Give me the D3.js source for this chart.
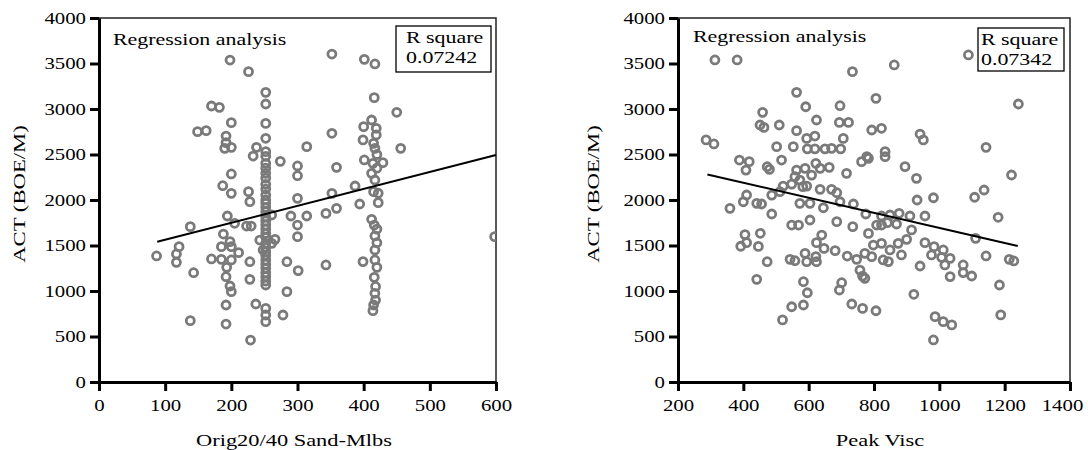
<!DOCTYPE html>
<html>
<head>
<meta charset="utf-8">
<script src="https://cdn.jsdelivr.net/npm/d3@7"></script>
<style>
  body { margin: 0; background: #fff; }
  text { font-family: "Liberation Serif", "Times New Roman", serif; font-size: 16px; fill: #000; }
</style>
</head>
<body>
<svg id="chart" width="1088" height="450"></svg>
<script>
// tick labels
var actTicks = [0, 500, 1000, 1500, 2000, 2500, 3000, 3500, 4000];
var sandTicks = [0, 100, 200, 300, 400, 500, 600];
var viscTicks = [200, 400, 600, 800, 1000, 1200, 1400];

// Orig20/40 Sand-Mlbs vs ACT
var sandPts = [
  [87,1385],[121,1487],[117,1407],[117,1315],[138,1707],[143,1201],[138,674],
  [149,2751],[162,2762],[170,3033],[182,3018],[170,1352],[187,2157],
  [192,2703],[192,2630],[200,2579],[190,2568],[198,3538],[200,2850],[200,2286],[200,2073],
  [194,1824],[205,1744],[188,1626],[198,1542],[185,1487],[200,1487],[211,1421],
  [185,1348],[200,1341],[193,1260],[192,1157],[198,1055],[200,993],[192,846],[192,637],
  [226,3410],[238,2579],[233,2483],[226,2092],[228,1982],[223,1714],[230,1714],
  [243,1560],[248,1450],[228,1322],[228,1128],[237,857],[229,461],
  [252,3183],[252,3055],[252,2842],[252,2678],[252,2531],[252,2480],[252,2403],[252,2350],
  [252,2293],[252,2240],[252,2172],[252,2120],[252,2055],[252,2000],[252,1963],[252,1920],
  [252,1872],[252,1817],[252,1770],[252,1725],[252,1680],[252,1634],[252,1590],[252,1524],
  [252,1480],[252,1432],[252,1390],[252,1340],[252,1295],[252,1249],[252,1200],[252,1157],
  [252,1110],[252,1066],[252,809],[252,736],[252,663],
  [261,1835],[261,1524],[266,1568],[274,2425],[278,736],[284,1322],[284,993],[290,1824],
  [300,2374],[300,2267],[300,2018],[300,1725],[300,1597],[301,1224],
  [314,2586],[314,1824],[343,1853],[343,1286],[352,3604],[352,2733],[352,2073],[359,2359],[359,1908],
  [387,2154],[394,1956],[399,1323],[399,2660],[400,2806],[401,3546],[401,2440],
  [412,2879],[412,2293],[412,1788],[414,2403],[414,784],[415,2623],[415,2092],[415,846],
  [416,3125],[416,1725],[416,1150],[417,3495],[417,2568],[417,2220],[417,1605],[417,1451],
  [417,1341],[417,975],[419,2788],[419,2715],[422,1971],[422,2074],[429,2410],[450,2964],
  [456,2568],[598,1597],
  [420,2500],[420,2350],[420,1680],[420,1530],[420,1260],[418,1050],[418,900]
];

// Peak Visc vs ACT
var viscPts = [
  [286,2660],[310,2616],[313,3539],[381,3539],[359,1908],
  [388,2439],[418,2421],[408,2329],[410,2055],[400,1981],[441,1963],[456,1956],
  [405,1620],[392,1492],[446,1490],[452,1634],[410,1531],
  [473,1322],[441,1128],[520,682],
  [451,2824],[463,2798],[459,2963],[510,2824],[502,2586],[553,2586],[517,2439],[473,2366],[480,2337],
  [487,2054],[512,2091],[522,2153],[487,1846],
  [548,2175],[582,2146],[594,2153],[558,2256],[573,2219],[609,2274],[563,2329],[589,2348],
  [622,2403],[635,2348],[663,2359],[716,2293],
  [563,3183],[591,3025],[624,2879],[563,2762],[594,2677],[619,2703],[596,2562],[619,2562],
  [650,2562],[670,2568],[698,2562],[706,2677],[694,2853],[722,2853],[696,3036],[734,3410],
  [806,3117],[793,2769],[778,2476],[762,2421],[783,2458],
  [635,2117],[670,2117],[686,2080],[573,1963],[604,1963],[645,1915],[696,1981],[737,1956],
  [775,1846],[808,1725],[548,1725],[569,1725],[604,1780],[686,1762],[735,1707],[640,1615],
  [624,1531],[647,1468],[681,1443],[783,1633],[798,1505],[793,1377],[772,1414],[543,1348],
  [558,1333],[589,1414],[594,1322],[622,1377],[624,1322],[718,1384],[747,1348],[757,1230],
  [765,1164],[772,1139],[584,1102],[596,981],[701,1091],[694,1011],[548,827],[584,846],
  [732,857],[765,809],[806,783],
  [1089,3594],[862,3484],[1242,3055],[823,2788],[941,2725],[951,2660],[1143,2579],[834,2531],
  [834,2476],[895,2367],[930,2238],[1221,2275],[932,2000],[982,2025],[1108,2030],[1137,2110],
  [823,1824],[849,1835],[877,1854],[910,1824],[823,1725],[841,1751],[869,1736],[956,1824],
  [823,1524],[849,1451],[874,1524],[900,1568],[915,1671],[828,1341],[844,1323],[884,1396],
  [956,1531],[984,1487],[976,1396],[1012,1451],[1007,1370],[1033,1359],[941,1275],[1017,1286],
  [1033,1158],[1073,1286],[1073,1202],[1099,1165],[1111,1579],[1143,1385],[1180,1810],
  [1214,1348],[1228,1330],[922,964],[987,718],[1012,663],[1038,627],[982,462],[1184,1066],[1188,737]
];

// regression lines (end points) and R square
var sandFit = [[88,1542],[600,2494]];
var viscFit = [[290,2280],[1240,1495]];
var sandR2 = "0.07242";
var viscR2 = "0.07342";

var svg = d3.select("#chart");
var serif = '"Liberation Serif", "Times New Roman", serif';
var stretch = 1.37;

function label(g, txt, x, y, s, rot) {
  return g.append("text")
    .attr("transform", "translate(" + x + "," + y + ")" + (rot ? " rotate(-90)" : "") + " scale(" + s + ",1)")
    .style("font-family", serif)
    .style("font-size", "16px")
    .text(txt);
}

function drawPanel(p) {
  var x = d3.scaleLinear().domain(p.xDomain).range(p.xRange);
  var y = d3.scaleLinear().domain([0, 4000]).range([382, 18]);
  var g = svg.append("g");

  svg.append("clipPath").attr("id", p.name)
    .append("rect")
    .attr("x", p.xRange[0]).attr("y", 18)
    .attr("width", p.xRange[1] - p.xRange[0]).attr("height", 364);

  // top and right border
  g.append("path")
    .attr("d", "M" + p.xRange[0] + ",18H" + p.xRange[1] + "V382")
    .attr("fill", "none")
    .attr("stroke", "#222")
    .attr("stroke-width", 1.5);

  g.append("g")
    .attr("clip-path", "url(#" + p.name + ")")
    .selectAll("circle")
    .data(p.points)
    .enter().append("circle")
    .attr("cx", function (d) { return x(d[0]); })
    .attr("cy", function (d) { return y(d[1]); })
    .attr("r", 4)
    .attr("fill", "none")
    .attr("stroke", "#7a7a7a")
    .attr("stroke-width", 2.8);

  g.append("line")
    .attr("x1", x(p.fit[0][0])).attr("y1", y(p.fit[0][1]))
    .attr("x2", x(p.fit[1][0])).attr("y2", y(p.fit[1][1]))
    .attr("stroke", "#000")
    .attr("stroke-width", 2);

  // legend texts
  label(g, "Regression analysis", p.regX, p.regY, stretch);
  g.append("rect")
    .attr("x", p.box[0]).attr("y", p.box[1])
    .attr("width", p.box[2]).attr("height", p.box[3])
    .attr("fill", "#fff")
    .attr("stroke", "#000")
    .attr("stroke-width", 1.3);
  label(g, "R square", p.box[0] + p.boxPad, p.box[1] + 17, stretch);
  label(g, p.r2, p.box[0] + p.boxPad, p.box[1] + 37, stretch);

  var ya = g.append("g")
    .attr("transform", "translate(" + p.xRange[0] + ",0)")
    .call(d3.axisLeft(y).tickValues(actTicks).tickFormat(d3.format("d")).tickSize(9).tickSizeOuter(0));
  ya.selectAll("text")
    .attr("x", -13 / 1.3)
    .attr("dy", "0.34em")
    .attr("transform", "scale(1.3,1)");

  var xa = g.append("g")
    .attr("transform", "translate(0,382)")
    .call(d3.axisBottom(x).tickValues(p.ticks).tickFormat(d3.format("d")).tickSize(9).tickSizeOuter(0));
  xa.selectAll("text")
    .attr("y", 29)
    .attr("dy", 0)
    .attr("x", function (d, i, n) { return i === n.length - 1 ? p.lastShift / 1.3 : 0; })
    .attr("transform", "scale(1.3,1)");

  [ya, xa].forEach(function (a) {
    a.attr("font-family", null).attr("font-size", null);
    a.selectAll("text").style("font-family", serif).style("font-size", "16px").attr("fill", "#000");
    a.select(".domain").attr("stroke", "#000").attr("stroke-width", 3);
    a.selectAll(".tick line").attr("stroke", "#000").attr("stroke-width", 3);
  });

  label(g, p.xTitle, p.xTitleX, 446, 1.4).attr("text-anchor", "middle");
  label(g, "ACT (BOE/M)", p.yTitleX, 194, 1.42, true).attr("text-anchor", "middle");
}

drawPanel({
  name: "clipSand",
  xDomain: [0, 600], xRange: [99, 496], ticks: sandTicks, lastShift: 0,
  points: sandPts, fit: sandFit, r2: sandR2,
  regX: 113, regY: 45,
  box: [396, 26, 95, 46], boxPad: 10,
  xTitle: "Orig20/40 Sand-Mlbs", xTitleX: 294, yTitleX: 25
});

drawPanel({
  name: "clipVisc",
  xDomain: [200, 1400], xRange: [678, 1070], ticks: viscTicks, lastShift: -8,
  points: viscPts, fit: viscFit, r2: viscR2,
  regX: 693, regY: 42,
  box: [978, 28, 86, 43], boxPad: 3,
  xTitle: "Peak Visc", xTitleX: 880, yTitleX: 599
});
</script>
</body>
</html>
